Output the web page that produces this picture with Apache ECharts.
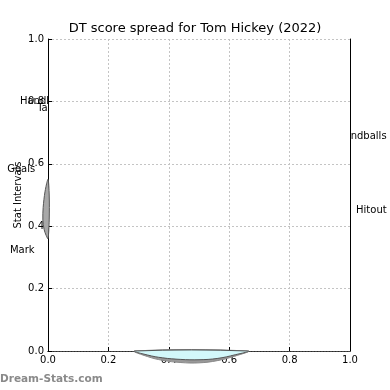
<!DOCTYPE html>
<html><head><meta charset="utf-8">
<script src="https://cdn.jsdelivr.net/npm/echarts@6/dist/echarts.min.js"></script>
<style>html,body{margin:0;padding:0;background:#fff}#c{width:390px;height:390px}</style>
</head><body><div id="c"></div>
<script>
// Tick labels
var xTicks = [0.0, 0.2, 0.4, 0.6, 0.8, 1.0];
var yTicks = [0.0, 0.2, 0.4, 0.6, 0.8, 1.0];
// Stat label names and their (x, y) anchors in data units
var statNames = ['Handballs', 'Tackles', 'Goals', 'Mark', 'Handballs', 'Hitout'];
var statX = [-0.093, -0.036, -0.135, -0.126, 0.957, 1.02];
var statY = [0.801, 0.779, 0.583, 0.324, 0.689, 0.452];
// Spread shape (bottom), x and y
var spreadX = [0.288, 0.33, 0.38, 0.44, 0.50, 0.56, 0.62, 0.662];
var spreadY = [0.0, -0.013, -0.022, -0.027, -0.028, -0.024, -0.012, 0.0];
var shadowY = [0.0, -0.018, -0.030, -0.037, -0.038, -0.031, -0.016, 0.0];
// Spread shape (left sliver)
var sliverX = [0.0, -0.010, -0.016, -0.017, -0.013, -0.006, 0.0, 0.004, 0.004];
var sliverY = [0.55, 0.51, 0.46, 0.42, 0.39, 0.37, 0.36, 0.42, 0.50];

var chart = echarts.init(document.getElementById('c'));
var FONT = 'DejaVu Sans';
function polyRender(xs, ys, closeBase, fill, stroke, lw) {
  return function (params, api) {
    var pts = [];
    for (var i = 0; i < xs.length; i++) pts.push(api.coord([xs[i], ys[i]]));
    return {type: 'polygon', shape: {points: pts, smooth: closeBase ? 0.4 : 0.3},
      style: {fill: fill, stroke: stroke, lineWidth: lw}};
  };
}
var axisCommon = {
  min: 0, max: 1, interval: 0.2, z: 2,
  axisLine: {show: true, onZero: false, lineStyle: {color: '#000', width: 1}},
  axisTick: {show: true, inside: true, length: 4, lineStyle: {color: '#000'}},
  splitLine: {show: false},
  axisLabel: {fontFamily: FONT, fontSize: 10, color: '#000', formatter: function (v) { return v.toFixed(1); }}
};
var gridLine = {show: true, lineStyle: {type: [2, 2], color: '#c4c4c4', width: 1}};
chart.setOption({
  animation: false,
  title: {text: 'DT score spread for Tom Hickey (2022)', left: 'center', top: 17,
    textStyle: {fontFamily: FONT, fontSize: 13, fontWeight: 'normal', color: '#000'}},
  grid: {left: 48, right: 40, top: 39, bottom: 39, show: true, backgroundColor: '#fff', borderWidth: 0, z: 1},
  xAxis: [
    Object.assign({}, axisCommon, {type: 'value', position: 'bottom', axisLabel: Object.assign({}, axisCommon.axisLabel, {margin: 4}),
      splitLine: gridLine}),
    Object.assign({}, axisCommon, {type: 'value', position: 'top', axisLabel: {show: false},
      axisLine: {show: true, lineStyle: {color: '#444', type: [2, 1]}}, axisTick: {show: false}})
  ],
  yAxis: [
    Object.assign({}, axisCommon, {type: 'value', position: 'left', name: 'Stat Intervals', nameLocation: 'middle', nameGap: 25,
      nameMoveOverlap: false,
      nameTextStyle: {fontFamily: FONT, fontSize: 10, color: '#000'},
      axisLabel: Object.assign({}, axisCommon.axisLabel, {margin: 4}),
      splitLine: gridLine}),
    Object.assign({}, axisCommon, {type: 'value', position: 'right', axisLabel: {show: false}, axisTick: {show: false}})
  ],
  series: [
    {type: 'scatter', z: 0, symbolSize: 0, silent: true, clip: false, itemStyle: {opacity: 1},
      data: statNames.map(function (n, i) { return {name: n, value: [statX[i], statY[i]]}; }),
      label: {show: true, position: 'right', distance: 0, formatter: '{b}', fontFamily: FONT, fontSize: 10, color: '#000', opacity: 1},
      emphasis: {disabled: true}},
    {type: 'custom', z: 5, clip: false, silent: true, data: [0],
      renderItem: polyRender(spreadX, shadowY, true, '#999', '#888', 1)},
    {type: 'custom', z: 6, clip: false, silent: true, data: [0],
      renderItem: polyRender(spreadX, spreadY, true, '#d2f8fa', '#555', 1)},
    {type: 'custom', z: 6, clip: false, silent: true, data: [0],
      renderItem: polyRender(sliverX, sliverY, false, '#a8a8a8', '#555', 1)}
  ],
  graphic: [{type: 'text', left: 0, top: 374, z: 10,
    style: {text: 'Dream-Stats.com', fontFamily: FONT, fontSize: 10.5, fontWeight: 'bold', fill: '#8a8a8a'}}]
});
</script></body></html>
